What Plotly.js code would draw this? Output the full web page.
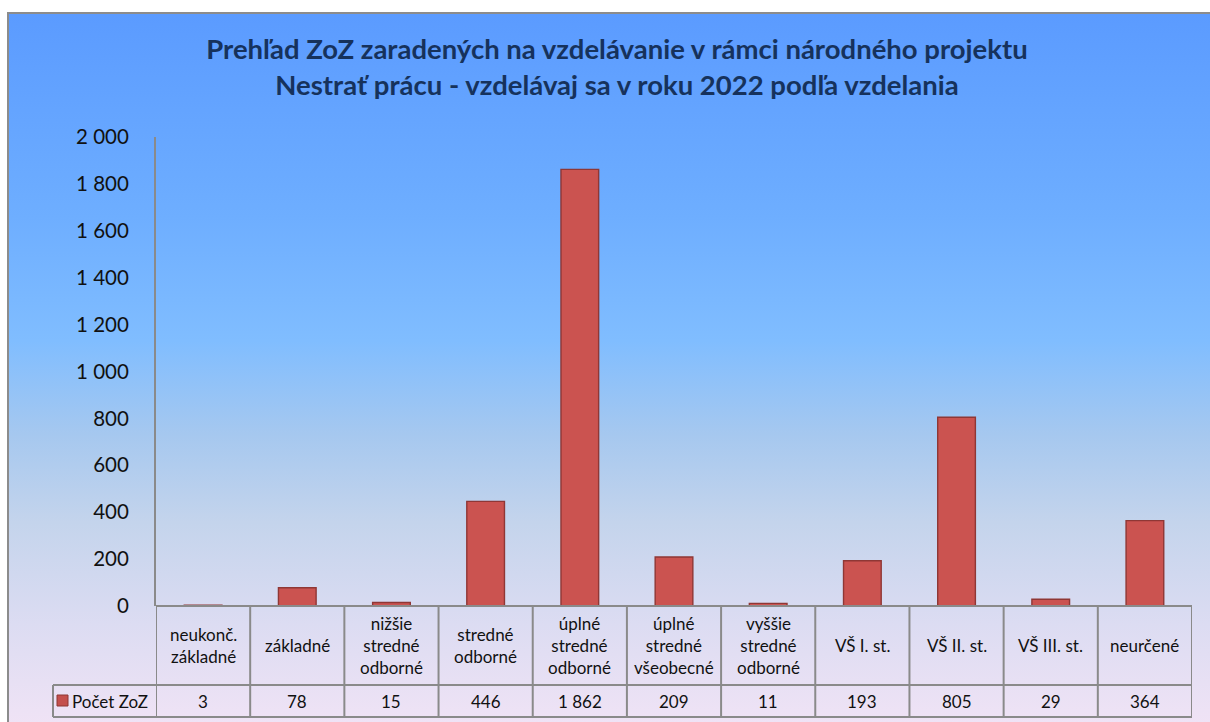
<!DOCTYPE html>
<html>
<head>
<meta charset="utf-8">
<script src="https://cdn.plot.ly/plotly-3.0.1.min.js"></script>
<style>
  html, body { margin:0; padding:0; width:1210px; height:722px; overflow:hidden; background:#ffffff; }
  #frame { position:absolute; left:7px; top:12px; width:1220px; height:730px; box-sizing:border-box;
    border:2px solid #8c8c8c;
    background: linear-gradient(to bottom, #5b9bff 0%, #6eaeff 28%, #80bdff 45%, #a6c8ef 58%, #c4d4ec 70%, #dcdcf2 84%, #f3e4f6 100%); }
  #chart { position:absolute; left:0; top:0; width:1210px; height:722px; }
</style>
</head>
<body>
<div id="frame"></div>
<div id="chart"></div>
<script>
// ---- data ----
const categories = ['neukonč. základné','základné','nižšie stredné odborné','stredné odborné','úplné stredné odborné','úplné stredné všeobecné','vyššie stredné odborné','VŠ I. st.','VŠ II. st.','VŠ III. st.','neurčené'];
const headerLabels = ['neukonč.<br>základné','základné','nižšie<br>stredné<br>odborné','stredné<br>odborné','úplné<br>stredné<br>odborné','úplné<br>stredné<br>všeobecné','vyššie<br>stredné<br>odborné','VŠ I. st.','VŠ II. st.','VŠ III. st.','neurčené'];
const values = [3, 78, 15, 446, 1862, 209, 11, 193, 805, 29, 364];
const seriesName = 'Počet ZoZ';
const yTicks = [0, 200, 400, 600, 800, 1000, 1200, 1400, 1600, 1800, 2000];

// ---- geometry helpers (pixels -> paper) ----
const W = 1210, H = 722;
const M = {l:156, r:18, t:137, b:116};
const PW = W - M.l - M.r, PH = H - M.t - M.b;
const py = p => (H - M.b - p) / PH;
const px = p => (p - M.l) / PW;

const fmt = v => String(v).replace(/\B(?=(\d{3})+(?!\d))/g, ' ');

const FONT = 'Lato, "Open Sans", sans-serif';
const lineCol = '#8a8a8a';
const n = categories.length;

const shapes = [];
const annotations = [];
const headerTop = 606, headerBot = 685, tableBot = 717;

// horizontal lines
shapes.push({type:'line', xref:'x', yref:'paper', x0:-0.5, x1:n-0.5, y0:py(headerTop), y1:py(headerTop), line:{color:lineCol, width:2}});
shapes.push({type:'line', xref:'paper', yref:'paper', x0:px(53), x1:1, y0:py(headerBot), y1:py(headerBot), line:{color:lineCol, width:2}});
shapes.push({type:'line', xref:'paper', yref:'paper', x0:px(53), x1:1, y0:py(tableBot), y1:py(tableBot), line:{color:lineCol, width:2}});
// legend cell left edge
shapes.push({type:'line', xref:'paper', yref:'paper', x0:px(53), x1:px(53), y0:py(headerBot), y1:py(tableBot), line:{color:lineCol, width:2}});
// vertical column lines
for (let i = 0; i <= n; i++) {
  shapes.push({type:'line', xref:'x', yref:'paper', x0:i-0.5, x1:i-0.5, y0:py(headerTop), y1:py(tableBot), line:{color:lineCol, width:2}});
}
// legend marker
shapes.push({type:'rect', xref:'paper', yref:'paper', x0:px(57), x1:px(68), y0:py(706), y1:py(695), fillcolor:'#c4504d', line:{color:'#8e3633', width:1}});

categories.forEach((c, i) => {
  annotations.push({xref:'x', yref:'paper', x:categories[i], y:py((headerTop+headerBot)/2), text:headerLabels[i],
    showarrow:false, xanchor:'center', yanchor:'middle', font:{family:FONT, size:17, color:'#111'}});
  annotations.push({xref:'x', yref:'paper', x:categories[i], y:py((headerBot+tableBot)/2), text:fmt(values[i]),
    showarrow:false, xanchor:'center', yanchor:'middle', font:{family:FONT, size:17, color:'#111'}});
});
annotations.push({xref:'paper', yref:'paper', x:px(70), y:py((headerBot+tableBot)/2), text:seriesName,
  showarrow:false, xanchor:'left', yanchor:'middle', font:{family:FONT, size:17, color:'#111'}});

const trace = {
  type:'bar', x:categories, y:values, name:seriesName,
  marker:{color:'#cb5350', line:{color:'#8f3735', width:1.4}},
  hoverinfo:'x+y'
};

const layout = {
  width:W, height:H,
  paper_bgcolor:'rgba(0,0,0,0)', plot_bgcolor:'rgba(0,0,0,0)',
  margin:M,
  separators:', ',
  showlegend:false,
  bargap:0.6,
  title:{text:'Prehľad ZoZ zaradených na vzdelávanie v rámci národného projektu<br>Nestrať prácu - vzdelávaj sa v roku 2022 podľa vzdelania',
    font:{family:FONT, size:27.5, color:'#16325c', weight:'bold'},
    x:617/W, xref:'container', xanchor:'center', y:1-59/H, yref:'container', yanchor:'middle'},
  xaxis:{type:'category', showticklabels:false, showgrid:false, zeroline:false, showline:false, ticks:'', range:[-0.5, n-0.5], fixedrange:true},
  yaxis:{range:[0,2000], tickvals:yTicks, tickformat:',d', showgrid:false, zeroline:false,
    showline:true, linecolor:lineCol, linewidth:2, ticks:'', ticklabelstandoff:21,
    tickfont:{family:FONT, size:20.5, color:'#111'}, fixedrange:true},
  shapes:shapes,
  annotations:annotations
};

Plotly.newPlot('chart', [trace], layout, {displayModeBar:false, staticPlot:true});
</script>
</body>
</html>
